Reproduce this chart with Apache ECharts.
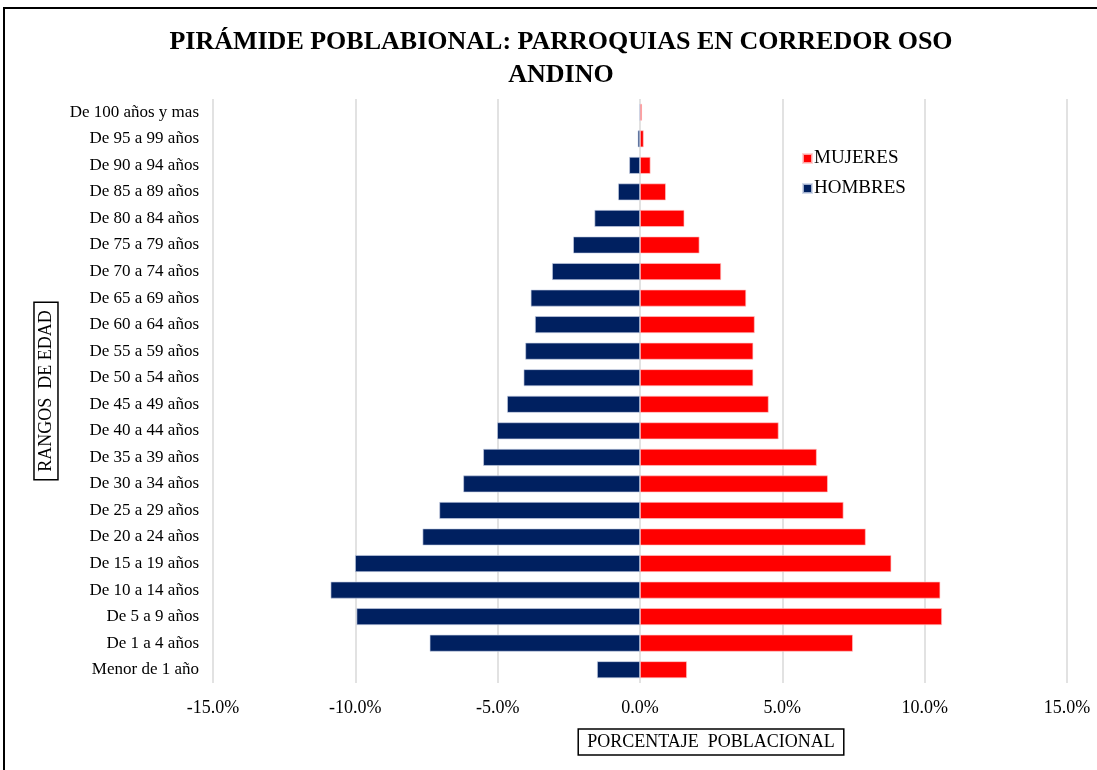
<!DOCTYPE html>
<html>
<head>
<meta charset="utf-8">
<script src="https://cdn.jsdelivr.net/npm/echarts@6/dist/echarts.min.js"></script>
<style>
    html, body { margin: 0; padding: 0; background: #ffffff; }
    #chart { width: 1097px; height: 770px; }
</style>
</head>
<body>
<div id="chart"></div>
<script>
    // rangos de edad, de arriba hacia abajo
    var categorias = ['De 100 años y mas', 'De 95 a 99 años', 'De 90 a 94 años', 'De 85 a 89 años',
        'De 80 a 84 años', 'De 75 a 79 años', 'De 70 a 74 años', 'De 65 a 69 años', 'De 60 a 64 años',
        'De 55 a 59 años', 'De 50 a 54 años', 'De 45 a 49 años', 'De 40 a 44 años', 'De 35 a 39 años',
        'De 30 a 34 años', 'De 25 a 29 años', 'De 20 a 24 años', 'De 15 a 19 años', 'De 10 a 14 años',
        'De 5 a 9 años', 'De 1 a 4 años', 'Menor de 1 año'];
    // porcentajes (hombres en negativo)
    var mujeres = [0.07, 0.13, 0.37, 0.91, 1.56, 2.09, 2.85, 3.73, 4.03, 3.98, 3.98, 4.52, 4.87,
        6.21, 6.60, 7.15, 7.93, 8.83, 10.55, 10.61, 7.48, 1.65];
    var hombres = [-0.02, -0.08, -0.38, -0.77, -1.6, -2.35, -3.09, -3.84, -3.69, -4.03, -4.09, -4.67,
        -5.02, -5.51, -6.21, -7.05, -7.64, -10.01, -10.87, -9.96, -7.39, -1.51];
    var ticksX = [-15, -10, -5, 0, 5, 10, 15];

    var serif = '"Liberation Serif", "DejaVu Serif", serif';
    var chart = echarts.init(document.getElementById('chart'));

    chart.setOption({
        animation: false,
        title: {
            text: 'PIRÁMIDE POBLABIONAL: PARROQUIAS EN CORREDOR OSO\nANDINO',
            left: 556,
            textAlign: 'center',
            top: 21,
            textStyle: {
                fontFamily: serif,
                fontWeight: 'bold',
                fontSize: 26,
                lineHeight: 33,
                color: '#000000'
            }
        },
        legend: {
            orient: 'vertical',
            left: 797,
            top: 144,
            itemWidth: 9,
            itemHeight: 9,
            itemGap: 11,
            icon: 'rect',
            data: ['MUJERES', 'HOMBRES'],
            textStyle: { fontFamily: serif, fontSize: 19, color: '#000000', padding: [0, 0, 0, -3] }
        },
        grid: {
            left: 213,
            right: 30,
            top: 99,
            bottom: 87
        },
        xAxis: {
            type: 'value',
            min: ticksX[0],
            max: ticksX[ticksX.length - 1],
            interval: 5,
            axisLine: { show: false },
            axisTick: { show: false },
            axisLabel: {
                margin: 16,
                fontFamily: serif,
                fontSize: 18,
                color: '#000000',
                formatter: function (v) { return v.toFixed(1) + '%'; }
            },
            splitLine: { lineStyle: { color: '#d9d9d9', width: 1.5 } }
        },
        yAxis: {
            type: 'category',
            inverse: true,
            data: categorias,
            axisLine: { show: false },
            axisTick: { show: false },
            axisLabel: { margin: 14, fontFamily: serif, fontSize: 17, color: '#000000' },
            name: 'RANGOS  DE EDAD',
            nameLocation: 'middle',
            nameRotate: 90,
            nameGap: 150,
            nameTextStyle: {
                fontFamily: serif,
                fontSize: 18,
                color: '#000000',
                borderColor: '#000000',
                borderWidth: 1.5,
                padding: [3, 8, 3, 8]
            }
        },
        graphic: [
            {
                type: 'rect',
                shape: { x: 4, y: 8, width: 1100, height: 800 },
                style: { fill: 'none', stroke: '#000000', lineWidth: 2 }
            },
            {
                type: 'text',
                x: 711,
                y: 742,
                style: {
                    text: 'PORCENTAJE  POBLACIONAL',
                    fontFamily: serif,
                    fontSize: 18,
                    fill: '#000000',
                    align: 'center',
                    verticalAlign: 'middle',
                    borderColor: '#000000',
                    borderWidth: 1.5,
                    padding: [4, 9, 4, 9]
                }
            }
        ],
        series: [
            {
                name: 'MUJERES',
                type: 'bar',
                data: mujeres,
                barGap: '-100%',
                barCategoryGap: '36%',
                itemStyle: { color: '#ff0000', borderColor: 'rgba(255,200,200,0.8)', borderWidth: 0.8 }
            },
            {
                name: 'HOMBRES',
                type: 'bar',
                data: hombres,
                barCategoryGap: '36%',
                itemStyle: { color: '#002060', borderColor: 'rgba(200,210,230,0.8)', borderWidth: 0.8 }
            }
        ]
    });
</script>
</body>
</html>
